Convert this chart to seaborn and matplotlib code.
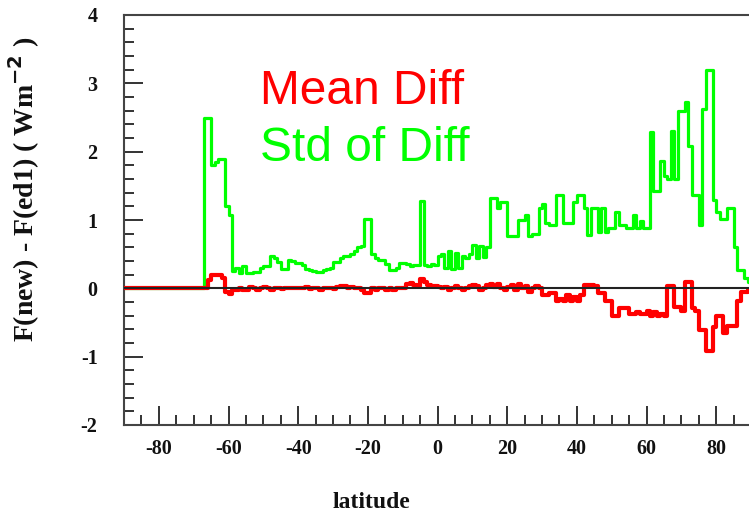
import numpy as np
import pandas as pd
import matplotlib
matplotlib.use("Agg")
import matplotlib.pyplot as plt
from matplotlib.ticker import MultipleLocator
import seaborn as sns

# ---- data (1-degree latitude bins, left edges) ----
latitude = list(range(-90, 91))

std_diff = (
    [0.0] * 10 +
    [0.0] * 10 +
    [0.0, 0.0, 0.0, 2.5, 2.5, 1.8, 1.85, 1.9, 1.9, 1.2] +
    [1.07, 0.25, 0.3, 0.22, 0.32, 0.22, 0.22, 0.24, 0.24, 0.3] +
    [0.32, 0.32, 0.47, 0.45, 0.39, 0.29, 0.29, 0.41, 0.4, 0.37] +
    [0.37, 0.34, 0.29, 0.27, 0.25, 0.24, 0.24, 0.27, 0.29, 0.3] +
    [0.39, 0.39, 0.45, 0.48, 0.48, 0.5, 0.55, 0.6, 0.62, 1.02] +
    [1.02, 0.5, 0.45, 0.41, 0.41, 0.35, 0.27, 0.27, 0.3, 0.37] +
    [0.37, 0.35, 0.33, 0.34, 0.34, 1.28, 0.34, 0.32, 0.35, 0.34] +
    [0.48, 0.5, 0.3, 0.55, 0.28, 0.52, 0.3, 0.48, 0.45, 0.5] +
    [0.63, 0.45, 0.62, 0.46, 0.6, 1.32, 1.32, 1.17, 1.27, 1.27] +
    [0.76, 0.76, 0.76, 1.0, 1.0, 1.07, 0.76, 0.8, 0.8, 1.17] +
    [1.24, 0.95, 0.92, 0.92, 1.36, 1.36, 0.95, 0.95, 0.95, 1.27] +
    [1.36, 1.36, 1.17, 0.78, 1.17, 1.17, 0.83, 1.17, 0.83, 0.88] +
    [0.88, 1.12, 0.92, 0.92, 0.88, 0.88, 1.07, 0.88, 0.98, 0.88] +
    [0.88, 2.29, 1.43, 1.43, 1.87, 1.65, 1.6, 2.3, 1.6, 2.59] +
    [2.59, 2.73, 2.09, 1.36, 1.36, 0.92, 2.63, 3.19, 3.19, 1.29] +
    [1.12, 1.02, 1.02, 1.17, 1.17, 0.61, 0.27, 0.27, 0.15, 0.1] +
    [0.1]
)

mean_diff = (
    [0.0] * 10 +
    [0.0] * 10 +
    [0.0, 0.0, 0.0, 0.0, 0.12, 0.19, 0.19, 0.19, 0.15, -0.05] +
    [-0.08, -0.03, -0.02, 0.0, -0.03, -0.03, 0.02, 0.01, -0.02, 0.0] +
    [0.02, 0.0, -0.02, 0.0, 0.01, -0.01, 0.0, 0.0, 0.01, 0.0] +
    [0.0, 0.01, 0.02, -0.01, 0.0, 0.01, -0.02, 0.0, 0.01, 0.0] +
    [-0.01, 0.02, 0.03, 0.03, 0.01, 0.02, 0.0, 0.0, -0.03, -0.07] +
    [-0.07, 0.0, -0.02, 0.0, 0.01, -0.02, 0.0, -0.02, 0.0, 0.01] +
    [0.0, 0.06, 0.08, 0.05, 0.04, 0.13, 0.1, 0.05, 0.04, 0.03] +
    [0.02, 0.0, 0.02, -0.02, 0.0, 0.03, 0.0, -0.02, 0.0, 0.03] +
    [0.05, 0.03, -0.03, 0.0, 0.05, 0.06, 0.02, 0.07, 0.0, -0.03] +
    [0.02, 0.05, -0.02, 0.07, 0.0, 0.03, -0.05, 0.0, 0.03, 0.0] +
    [-0.1, -0.1, -0.07, -0.07, -0.19, -0.15, -0.19, -0.1, -0.19, -0.12] +
    [-0.19, -0.1, 0.05, 0.05, 0.05, 0.03, -0.07, -0.07, -0.19, -0.19] +
    [-0.41, -0.41, -0.29, -0.29, -0.29, -0.37, -0.37, -0.35, -0.37, -0.37] +
    [-0.33, -0.41, -0.35, -0.41, -0.38, -0.41, 0.03, 0.03, -0.27, -0.27] +
    [-0.33, 0.1, 0.1, -0.29, -0.33, -0.61, -0.61, -0.92, -0.92, -0.57] +
    [-0.41, -0.41, -0.66, -0.55, -0.55, -0.55, -0.19, -0.05, -0.05, -0.02] +
    [0.0]
)

series_labels = ["Mean Diff", "Std of Diff"]
series_colors = ["#ff0000", "#00ff00"]
x_ticks = [-80, -60, -40, -20, 0, 20, 40, 60, 80]
y_ticks = [-2, -1, 0, 1, 2, 3, 4]

df = pd.DataFrame({"latitude": latitude, "mean": mean_diff, "std": std_diff})

# ---- style ----
sns.set_style("white")
plt.rcParams["axes.unicode_minus"] = False
plt.rcParams["font.family"] = ["Liberation Serif", "DejaVu Serif"]

fig = plt.figure(figsize=(7.49, 5.13), dpi=100)
ax = fig.add_axes([124 / 749, 88 / 513, 627 / 749, 410 / 513])

sns.lineplot(data=df, x="latitude", y="std", ax=ax, color=series_colors[1],
             linewidth=2.3, drawstyle="steps-post", estimator=None, zorder=2)
sns.lineplot(data=df, x="latitude", y="mean", ax=ax, color=series_colors[0],
             linewidth=3.0, drawstyle="steps-post", estimator=None, zorder=3)
ax.axhline(0, color="#222222", linewidth=1.5, zorder=4)

ax.set_xlim(-90, 90)
ax.set_ylim(-2, 4)
ax.set_xticks(x_ticks)
ax.set_yticks(y_ticks)
ax.xaxis.set_minor_locator(MultipleLocator(5))
ax.yaxis.set_minor_locator(MultipleLocator(0.2))

ax.tick_params(axis="both", which="major", direction="in", length=13.5,
               width=1.4, color="#333333", bottom=True, left=True,
               top=False, right=False)
ax.tick_params(axis="both", which="minor", direction="in", length=7,
               width=1.4, color="#333333", bottom=True, left=True,
               top=False, right=False)
ax.tick_params(axis="x", which="major", pad=10)
ax.tick_params(axis="y", which="major", pad=19)
for lbl in ax.get_xticklabels() + ax.get_yticklabels():
    lbl.set_fontweight("bold")
    lbl.set_fontsize(14.5)
    lbl.set_color("#111111")

for side in ["left", "bottom", "top"]:
    ax.spines[side].set_visible(True)
    ax.spines[side].set_color("#444444")
    ax.spines[side].set_linewidth(1.5)
ax.spines["right"].set_visible(False)

ax.set_xlabel("latitude", fontsize=17, fontweight="bold", color="#111111")
ax.xaxis.set_label_coords((371 - 124) / 627, -0.163)
ax.set_ylabel(r"F(new) - F(ed1) ( Wm$^{\mathbf{-2}}$ )", fontsize=20,
              fontweight="bold", color="#111111")
ax.yaxis.set_label_coords(-0.13, 0.575)

ax.text(-51, 2.70, series_labels[0], color=series_colors[0], fontsize=34.5,
        family=["Liberation Sans", "DejaVu Sans"], va="baseline", ha="left")
ax.text(-51, 1.87, series_labels[1], color=series_colors[1], fontsize=34.5,
        family=["Liberation Sans", "DejaVu Sans"], va="baseline", ha="left")

fig.savefig("out.png", dpi=100)
